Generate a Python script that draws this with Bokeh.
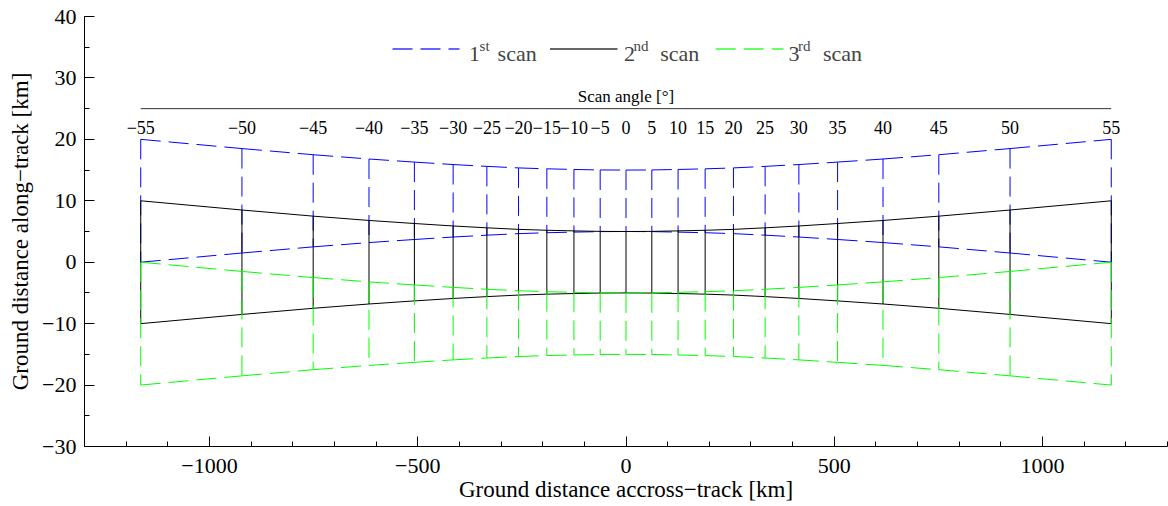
from bokeh.plotting import figure
from bokeh.models import Range1d, SingleIntervalTicker, Label, Arrow
from bokeh.embed import file_html
from bokeh.resources import INLINE
from bokeh.core.properties import value

# ---- data ----
scan_angle = [-55, -50, -45, -40, -35, -30, -25, -20, -15, -10, -5, 0,
              5, 10, 15, 20, 25, 30, 35, 40, 45, 50, 55]
ground_x = [-1165, -922, -751, -617, -508, -415, -334, -258, -190, -125, -62, 0,
            62, 125, 190, 258, 334, 415, 508, 617, 751, 922, 1165]
half_width = [10.0, 8.5, 7.5, 6.8, 6.3, 5.9, 5.6, 5.35, 5.2, 5.1, 5.02, 5.0,
              5.02, 5.1, 5.2, 5.35, 5.6, 5.9, 6.3, 6.8, 7.5, 8.5, 10.0]
scan_names = ["1st", "2nd", "3rd"]
scan_center = [10, 0, -10]
scan_colors = ["#0000ff", "#000000", "#00ff00"]
scan_dash = ["20 8", "solid", "20 8"]

y_ticks = [-30, -20, -10, 0, 10, 20, 30, 40]
x_ticks = [-1000, -500, 0, 500, 1000]

FONT = "Liberation Serif"
MINUS = "\u2212"

def fmt(v):
    return str(v).replace("-", MINUS)

p = figure(width=1168, height=506, output_backend="svg", toolbar_location=None,
           x_range=Range1d(-1300, 1300), y_range=Range1d(-30, 40),
           min_border_left=84, min_border_right=1, min_border_top=16, min_border_bottom=60)
p.outline_line_color = None
p.grid.grid_line_color = None
p.background_fill_color = "white"

for name, c, col, dash in zip(scan_names, scan_center, scan_colors, scan_dash):
    top = [c + w for w in half_width]
    bot = [c - w for w in half_width]
    # top and bottom edges, one piece per cell
    p.segment(x0=ground_x[:-1], y0=top[:-1], x1=ground_x[1:], y1=top[1:],
              line_color=col, line_width=1, line_dash=dash)
    p.segment(x0=ground_x[:-1], y0=bot[:-1], x1=ground_x[1:], y1=bot[1:],
              line_color=col, line_width=1, line_dash=dash)
    # cell boundaries at every scan angle
    p.segment(x0=ground_x, y0=top, x1=ground_x, y1=bot,
              line_color=col, line_width=1, line_dash=dash)

# scan-angle axis drawn inside the plot
ang_axis_y = 25
p.segment(x0=[ground_x[0]], y0=[ang_axis_y], x1=[ground_x[-1]], y1=[ang_axis_y],
          line_color="#333333", line_width=1)
p.text(x=ground_x, y=[21.93] * len(ground_x), text=[fmt(a) for a in scan_angle],
       text_font=value(FONT), text_font_size="18px", text_align="center",
       text_baseline="alphabetic", text_color="black")
p.add_layout(Label(x=0, y=26.9, text="Scan angle [\u00b0]", text_font=FONT,
                   text_font_size="17px", text_align="center",
                   text_baseline="alphabetic", text_color="black"))

# legend drawn manually (superscripts); screen units relative to the frame
leg_line_y = 397.5
leg_base_y = 393
leg_sup_y = 401
legend_layout = [
    (308, 375, 384.4, "1", 395.1, "st", 413.1),
    (465.5, 533, 539.4, "2", 549, "nd", 575.7),
    (631.2, 699, 704, "3", 713.5, "rd", 738.4),
]
for (lx0, lx1, nx, num, sx, sup, tx), col, dash in zip(legend_layout, scan_colors, scan_dash):
    p.add_layout(Arrow(end=None, x_start=lx0, y_start=leg_line_y, x_end=lx1, y_end=leg_line_y,
                       start_units="screen", end_units="screen",
                       line_color=col, line_alpha=0.6, line_width=2, line_dash=dash))
    p.add_layout(Label(x=nx, y=leg_base_y, x_units="screen", y_units="screen", text=num,
                       text_font=FONT, text_font_size="22px", text_baseline="alphabetic"))
    p.add_layout(Label(x=sx, y=leg_sup_y, x_units="screen", y_units="screen", text=sup,
                       text_font=FONT, text_font_size="15px", text_baseline="alphabetic"))
    p.add_layout(Label(x=tx, y=leg_base_y, x_units="screen", y_units="screen", text="scan",
                       text_font=FONT, text_font_size="22px", text_baseline="alphabetic"))

# axes
p.xaxis.ticker = SingleIntervalTicker(interval=500, num_minor_ticks=5)
p.yaxis.ticker = SingleIntervalTicker(interval=10, num_minor_ticks=2)
p.xaxis.major_label_overrides = {t: fmt(t) for t in x_ticks}
p.yaxis.major_label_overrides = {t: fmt(t) for t in y_ticks}
for ax in (p.xaxis[0], p.yaxis[0]):
    ax.major_tick_in = 10
    ax.major_tick_out = 0
    ax.minor_tick_in = 5
    ax.minor_tick_out = 0
    ax.axis_line_color = "black"
    ax.major_tick_line_color = "black"
    ax.minor_tick_line_color = "black"
    ax.major_label_text_font = FONT
    ax.major_label_text_font_size = "22px"
    ax.major_label_text_color = "black"
    ax.axis_label_text_font = FONT
    ax.axis_label_text_font_size = "23px"
    ax.axis_label_text_font_style = "normal"
    ax.axis_label_text_color = "black"
p.xaxis.axis_label = "Ground distance accross\u2212track [km]"
p.yaxis.axis_label = "Ground distance along\u2212track [km]"
p.xaxis.major_label_standoff = 12
p.xaxis.axis_label_standoff = 1
p.yaxis.major_label_standoff = 8
p.yaxis.axis_label_standoff = 6

open("out.html", "w").write(file_html(p, INLINE))
